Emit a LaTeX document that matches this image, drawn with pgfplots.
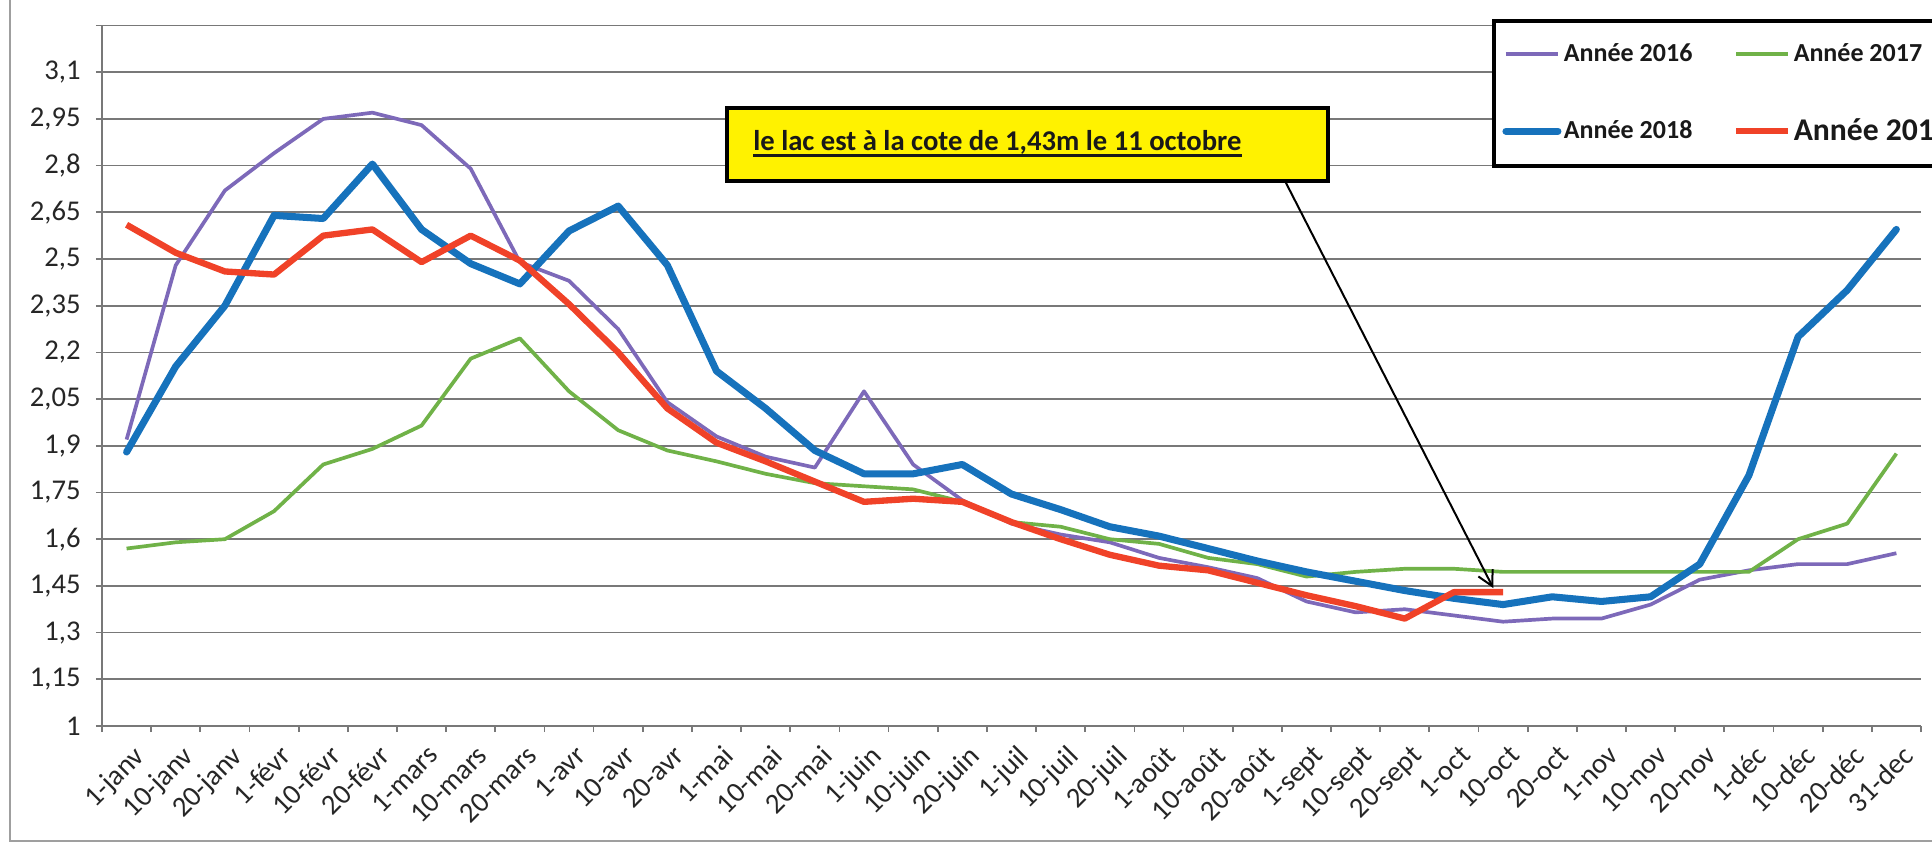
\documentclass[border=0pt]{standalone}
\usepackage{fontspec}
\setmainfont{Carlito}
\usepackage{pgfplots}
\pgfplotsset{compat=1.18}
\usepackage{pgfplotstable}
\usetikzlibrary{arrows.meta}

\definecolor{c16}{RGB}{125,105,185}
\definecolor{c17}{RGB}{112,178,72}
\definecolor{c18}{RGB}{22,114,188}
\definecolor{c19}{RGB}{240,66,40}
\definecolor{gridc}{RGB}{120,120,120}
\newcommand\tickfont{\fontsize{16.3pt}{19pt}\selectfont}
\newcommand\legfont{\fontsize{14.8pt}{17pt}\selectfont}

\pgfplotstableread{
x a16 a17 a18 a19
0 1.92 1.57 1.88 2.61
1 2.48 1.59 2.155 2.52
2 2.72 1.60 2.35 2.46
3 2.84 1.69 2.64 2.45
4 2.95 1.84 2.63 2.575
5 2.97 1.89 2.805 2.595
6 2.93 1.965 2.595 2.49
7 2.79 2.18 2.485 2.575
8 2.49 2.245 2.42 2.495
9 2.43 2.075 2.59 2.355
10 2.275 1.95 2.67 2.20
11 2.04 1.885 2.48 2.02
12 1.93 1.85 2.14 1.91
13 1.865 1.81 2.02 1.85
14 1.83 1.78 1.885 1.785
15 2.075 1.77 1.81 1.72
16 1.84 1.76 1.81 1.73
17 1.725 1.72 1.84 1.72
18 1.65 1.655 1.745 1.655
19 1.615 1.64 1.695 1.60
20 1.59 1.60 1.64 1.55
21 1.54 1.585 1.61 1.515
22 1.51 1.54 1.57 1.50
23 1.475 1.52 1.53 1.46
24 1.40 1.48 1.495 1.42
25 1.365 1.495 1.465 1.385
26 1.375 1.505 1.435 1.345
27 1.355 1.505 1.41 1.43
28 1.335 1.495 1.39 1.43
29 1.345 1.495 1.415 nan
30 1.345 1.495 1.40 nan
31 1.39 1.495 1.415 nan
32 1.47 1.495 1.52 nan
33 1.50 1.495 1.805 nan
34 1.52 1.60 2.25 nan
35 1.52 1.65 2.40 nan
36 1.555 1.875 2.595 nan
}\lac

\begin{document}
\begin{tikzpicture}
\useasboundingbox (0,0) rectangle (386.4mm,169.4mm);
\clip (0,0) rectangle (386.4mm,169.4mm);
\draw[gray!75, line width=0.5mm] (2mm,175mm) -- (2mm,1.2mm) -- (390mm,1.2mm);
\begin{axis}[
  at={(20.4mm,24.2mm)}, anchor=south west,
  scale only axis, width=363.8mm, height=140.1mm,
  xmin=-0.5, xmax=36.5, ymin=1, ymax=3.25,
  axis lines*=left,
  axis line style={gridc, line width=0.35mm},
  ytick={1,1.15,...,3.11},
  extra y ticks={3.25}, extra y tick labels={},
  extra y tick style={grid=major},
  ymajorgrids,
  grid style={gridc, line width=0.35mm},
  xtick={0,...,36},
  xticklabels={1-janv,10-janv,20-janv,1-févr,10-févr,20-févr,1-mars,10-mars,20-mars,1-avr,10-avr,20-avr,1-mai,10-mai,20-mai,1-juin,10-juin,20-juin,1-juil,10-juil,20-juil,1-août,10-août,20-août,1-sept,10-sept,20-sept,1-oct,10-oct,20-oct,1-nov,10-nov,20-nov,1-déc,10-déc,20-déc,31-dec},
  minor xtick={-0.5,0.5,...,36.6},
  major x tick style={draw=none},
  tick align=outside, tick pos=left,
  major tick length=1.2mm, minor tick length=1.2mm,
  tick style={gridc, line width=0.35mm},
  xticklabel style={rotate=45, anchor=north east, font=\tickfont, text=black!85, inner sep=0pt, xshift=-0.92mm, yshift=-2.33mm},
  yticklabel style={font=\tickfont, text=black!85, inner sep=0pt, xshift=-3mm},
  /pgf/number format/.cd, use comma, fixed, precision=2, assume math mode=true,
  /pgfplots/.cd,
  legend columns=2,
  legend cell align=left,
  legend style={at={(0.7644,1.0095)}, anchor=north west, draw=black, line width=0.8mm, fill=white,
    inner xsep=1.6mm, inner ysep=4.1mm, row sep=9.9mm,
    nodes={inner sep=0.5mm, text=black!90},
    /tikz/every even column/.append style={column sep=7.6mm}},
  legend image code/.code={\draw[#1] (0mm,0mm) -- (10.4mm,0mm);},
]
\addplot[c16, line width=2.1pt, line join=round] table[x=x,y=a16]{\lac};
\addlegendentry{\legfont\bfseries Année 2016}
\addplot[c17, line width=2.1pt, line join=round] table[x=x,y=a17]{\lac};
\addlegendentry{\legfont\bfseries Année 2017}
\addplot[c18, line width=4pt, line join=round, line cap=round] table[x=x,y=a18]{\lac};
\addlegendentry{\legfont\bfseries Année 2018}
\addplot[c19, line width=3.6pt, line join=round] table[x=x,y=a19]{\lac};
\addlegendentry{\fontsize{18pt}{20pt}\selectfont\bfseries Année 2019}
\coordinate (tip) at (axis cs:27.8,1.443);
\end{axis}
\draw[fill=yellow, line width=0.8mm] (145.4mm,133.2mm) rectangle (265.6mm,147.8mm);
\node[anchor=west, font=\fontsize{16.3pt}{19pt}\selectfont\bfseries, inner sep=0pt, text=black!90] (note) at (150.6mm,141mm) {le lac est à la cote de 1,43m le 11 octobre};
\draw[line width=1.3pt, black!90] ([yshift=-1.1mm]note.base west) -- ([yshift=-1.1mm]note.base east);
\draw[line width=0.4mm, -{Straight Barb[length=3mm,width=3.2mm]}] (257mm,133.2mm) -- (tip);
\end{tikzpicture}
\end{document}
